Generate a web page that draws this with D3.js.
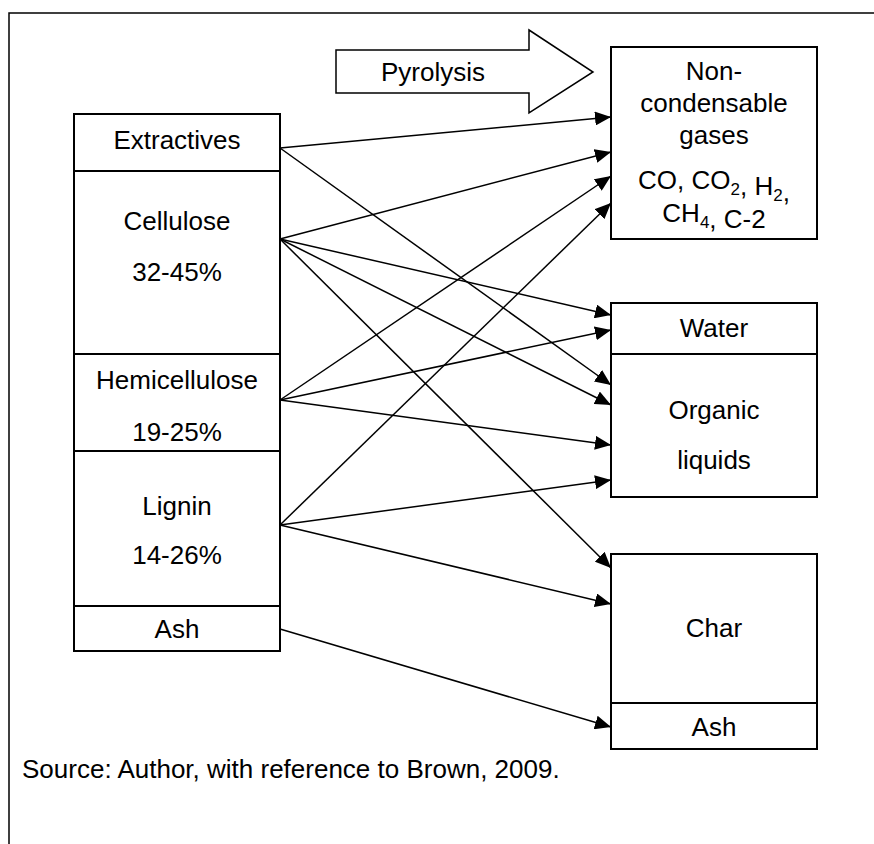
<!DOCTYPE html>
<html>
<head>
<meta charset="utf-8">
<script src="https://cdn.jsdelivr.net/npm/d3@7"></script>
<style>
  body { margin: 0; background: #fff; }
  svg text { font-family: "Liberation Sans", Arial, Helvetica, sans-serif; font-size: 26px; fill: #000; }
</style>
</head>
<body>
<div id="chart"></div>
<script>
// Data
const feedParts = ["Extractives", "Cellulose", "Hemicellulose", "Lignin", "Ash"];
const feedShares = ["", "32-45%", "19-25%", "14-26%", ""];
const productGroups = ["gases", "liquids", "solids"];
const productParts = [
    ["Non-condensable gases"],
    ["Water", "Organic liquids"],
    ["Char", "Ash"]
];
// [from, to]
const links = [
    ["Extractives", "gases"],
    ["Extractives", "organic"],
    ["Cellulose", "gases"],
    ["Cellulose", "water"],
    ["Cellulose", "organic"],
    ["Cellulose", "char"],
    ["Hemicellulose", "gases"],
    ["Hemicellulose", "water"],
    ["Hemicellulose", "organic"],
    ["Lignin", "gases"],
    ["Lignin", "organic"],
    ["Lignin", "char"],
    ["Ash", "ash"]
];
const processLabel = "Pyrolysis";
const sourceNote = "Source: Author, with reference to Brown, 2009.";

// Layout
const width = 874;
const height = 844;
const leftX = [74, 280];
const rightX = [611, 817];
const leftRows = [114, 171, 354, 451, 606, 651];
const leftText = { Extractives: [140], Cellulose: [221, 272], Hemicellulose: [380, 432], Lignin: [506, 555], Ash: [629] };
const leftAnchor = { Extractives: 148, Cellulose: 239, Hemicellulose: 400, Lignin: 525, Ash: 629 };
const rightBoxes = { gases: [47, 239], liquids: [303, 354, 497], solids: [554, 703, 749] };
// arrow tips, one list per target (filled in link order)
const tipY = {
    gases: [117, 152, 176, 203],
    water: [315, 330],
    organic: [385, 405, 445, 480],
    char: [568, 604],
    ash: [727]
};

const svg = d3.select("#chart").append("svg")
    .attr("width", width)
    .attr("height", height);

svg.append("defs").append("marker")
    .attr("id", "head")
    .attr("viewBox", "0 0 16 14")
    .attr("refX", 16).attr("refY", 7)
    .attr("markerWidth", 16).attr("markerHeight", 14)
    .attr("markerUnits", "userSpaceOnUse")
    .attr("orient", "auto")
    .append("path")
    .attr("d", "M0,0 L16,7 L0,14 Z")
    .attr("fill", "#000");

// frame
svg.append("path")
    .attr("d", `M9,${height} V13 H${width}`)
    .attr("fill", "none").attr("stroke", "#000").attr("stroke-width", 1.5);

// pyrolysis block arrow
const arrowPts = [[336, 50], [529, 50], [529, 30], [593, 72], [529, 113], [529, 93], [336, 93]];
svg.append("path")
    .attr("d", d3.line()(arrowPts) + "Z")
    .attr("fill", "#fff").attr("stroke", "#000").attr("stroke-width", 1.5);
svg.append("text").attr("x", 433).attr("y", 72).attr("dy", "0.35em")
    .attr("text-anchor", "middle").text(processLabel);

// links
const used = {};
const linkG = svg.append("g");
links.forEach(([from, to]) => {
    used[to] = (used[to] || 0);
    const y2 = tipY[to][used[to]++];
    linkG.append("line")
        .attr("x1", leftX[1]).attr("y1", leftAnchor[from])
        .attr("x2", rightX[0]).attr("y2", y2)
        .attr("stroke", "#000").attr("stroke-width", 1.5)
        .attr("marker-end", "url(#head)");
});

// left feed box
const left = svg.append("g");
feedParts.forEach((name, i) => {
    left.append("rect")
        .attr("x", leftX[0]).attr("y", leftRows[i])
        .attr("width", leftX[1] - leftX[0]).attr("height", leftRows[i + 1] - leftRows[i])
        .attr("fill", "#fff").attr("stroke", "#000").attr("stroke-width", 2);
    const lines = [name, feedShares[i]].filter(d => d);
    lines.forEach((t, j) => {
        left.append("text")
            .attr("x", (leftX[0] + leftX[1]) / 2).attr("y", leftText[name][j])
            .attr("dy", "0.35em").attr("text-anchor", "middle").text(t);
    });
});

// right product boxes
const right = svg.append("g");
productGroups.forEach((g, gi) => {
    const rows = rightBoxes[g];
    for (let i = 0; i < rows.length - 1; i++) {
        right.append("rect")
            .attr("x", rightX[0]).attr("y", rows[i])
            .attr("width", rightX[1] - rightX[0]).attr("height", rows[i + 1] - rows[i])
            .attr("fill", "#fff").attr("stroke", "#000").attr("stroke-width", 2);
    }
});

const cx = (rightX[0] + rightX[1]) / 2;
function label(y, parts) {
    const t = right.append("text").attr("x", cx).attr("y", y)
        .attr("dy", "0.35em").attr("text-anchor", "middle");
    parts.forEach(p => {
        if (Array.isArray(p)) {
            t.append("tspan").attr("font-size", "17px").attr("dy", 6).text(p[0]);
            t.append("tspan").attr("dy", -6).text("");
        } else {
            t.append("tspan").text(p);
        }
    });
}
label(71, ["Non-"]);
label(103, ["condensable"]);
label(135, ["gases"]);
label(180, ["CO, CO", ["2"], ", H", ["2"], ","]);
label(213, ["CH", ["4"], ", C-2"]);
label(328, [productParts[1][0]]);
label(410, ["Organic"]);
label(460, ["liquids"]);
label(628, [productParts[2][0]]);
label(727, [productParts[2][1]]);

// source note
svg.append("text").attr("x", 22).attr("y", 769).attr("dy", "0.35em").text(sourceNote);
</script>
</body>
</html>
